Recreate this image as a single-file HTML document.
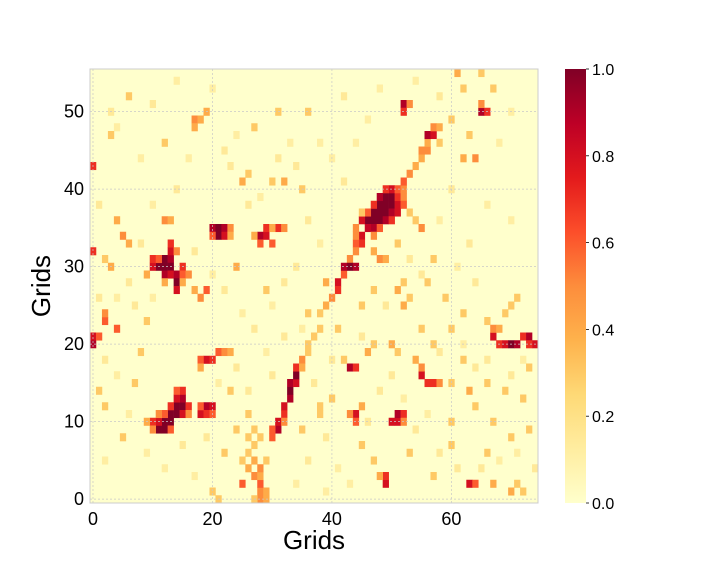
<!DOCTYPE html>
<html><head><meta charset="utf-8">
<style>
body{margin:0;background:#fff;font-family:"Liberation Sans",sans-serif;}
svg text{font-family:"Liberation Sans",sans-serif;fill:#000;}
</style></head>
<body>
<svg id="chart" width="720" height="576"></svg>
<script>
// Heatmap data: [x, y, value]
const xTicks=[0,20,40,60];
const yTicks=[0,10,20,30,40,50];
const cbTicks=["0.0","0.2","0.4","0.6","0.8","1.0"];
const cells=[
[46,36,1],[47,36,1],[47,37,1],[48,37,1],[48,38,1],[49,38,1],[49,39,1],[50,39,1],[50,38,1],[48,36,1],[49,37,1],[47,35,.9],[46,35,.85],[45,34,.8],[45,33,.7],[44,33,.6],[49,36,.9],[50,37,.9],[51,37,.8],[51,38,.8],[51,39,.7],[50,40,.8],[51,40,.6],[49,40,.7],[48,39,.9],[47,38,.7],[46,37,.6],[45,36,.8],[44,35,.5],[52,40,.5],[52,41,.6],[53,42,.5],[54,43,.4],[55,44,.4],[56,45,.5],[56,46,.4],[56,47,.9],[57,47,.8],[57,48,.5],[58,48,.4],[52,39,.5],[52,38,.6],[50,36,.7],[48,35,.6],[47,34,.5],[44,32,.5],[43,31,.5],[42,29,.6],[43,30,1],[44,30,.9],[42,30,.9],[41,28,.8],[41,27,.7],[40,26,.5],[39,25,.4],[38,24,.3],[38,22,.3],[37,21,.3],[45,37,.3],[44,34,.5],[53,37,.3],[54,36,.3],[55,35,.5],
[11,30,1],[12,30,1],[12,31,1],[13,31,.9],[13,30,1],[12,29,.9],[13,29,.8],[14,29,.9],[14,28,1],[14,27,.8],[15,30,.7],[15,29,.6],[16,29,.5],[10,30,.8],[10,31,.7],[11,31,.6],[13,32,.8],[13,33,.7],[14,32,.5],[12,28,.4],[15,28,.4],[9,29,.4],
[11,9,1],[12,9,1],[12,10,1],[13,10,1],[13,11,1],[14,11,1],[14,12,1],[15,12,1],[15,13,.9],[14,13,.8],[13,12,.7],[15,11,.8],[16,12,.7],[16,11,.5],[11,10,.8],[10,10,.7],[10,9,.5],[12,11,.6],[15,14,.7],[14,14,.6],[13,9,.6],[11,11,.5],[9,10,.4],
[18,11,.8],[19,12,.9],[19,11,.7],[20,12,.8],[20,11,.6],[18,12,.6],
[19,18,.8],[20,18,.7],[18,18,.6],[21,19,.6],[22,19,.5],[23,19,.4],[18,17,.4],
[20,35,.9],[21,35,1],[22,35,.9],[21,34,1],[22,34,.8],[20,34,.6],[23,35,.5],[23,34,.4],
[28,34,.9],[29,34,.8],[29,35,.7],[30,33,.6],[31,35,.7],[28,33,.6],[27,34,.4],[32,35,.5],[30,35,.4],
[31,9,.9],[31,10,.8],[32,11,.7],[32,12,.8],[33,13,.9],[33,14,1],[33,15,.9],[34,15,.8],[34,16,1],[34,17,.7],[35,18,.5],[30,8,.6],[30,9,.6],[32,10,.5],[35,17,.4],[36,19,.3],[36,20,.3],
[28,0,.5],[28,1,.5],[29,1,.4],[28,2,.6],[27,3,.5],[28,3,.4],[28,4,.5],[27,5,.4],[29,5,.3],[26,6,.3],[27,7,.3],[26,8,.3],[28,8,.3],[27,9,.3],[25,2,.6],[26,4,.4],[25,5,.3],[29,0,.4],[27,0,.3],
[67,21,.8],[68,20,.7],[69,20,.8],[70,20,1],[71,20,.9],[72,21,.7],[73,21,.9],[74,20,.8],[73,20,.7],[67,22,.5],[68,22,.4],[69,24,.3],[70,25,.3],[71,26,.3],[66,23,.3],
[52,51,.9],[52,50,.7],[53,51,.5],[65,50,.9],[66,50,.7],[65,51,.5],[64,44,.5],[62,44,.4],[0,20,.9],[0,21,.8],[1,21,.6],[2,23,.6],[2,24,.5],[4,22,.6],[0,32,.7],[0,43,.7],
[55,16,.8],[56,15,.7],[57,15,.7],[58,15,.5],[55,17,.5],[54,18,.4],
[50,10,.8],[51,10,.8],[51,11,.9],[52,11,.7],[52,10,.5],[44,11,.8],[44,10,.6],[43,11,.5],[45,12,.4],
[49,2,.8],[49,3,.7],[48,3,.4],[43,17,.9],[44,17,.7],[42,18,.3],
[63,2,.8],[64,2,.6],[67,2,.4],[70,1,.4],[72,1,.3],[71,2,.3],
[19,27,.6],[18,26,.5],[17,27,.4],[29,27,.3],[24,30,.4],[12,36,.5],[13,36,.4],[5,34,.5],[4,36,.4],[6,33,.4],[3,30,.4],[2,31,.3],
[48,31,.5],[49,31,.4],[47,32,.4],[51,33,.3],[51,27,.4],[52,28,.3],[52,25,.4],[53,26,.3],[55,22,.3],[50,20,.4],[51,19,.3],[41,22,.3],[39,28,.4],[36,24,.3],
[17,49,.5],[18,49,.4],[17,48,.4],[19,50,.4],[35,40,.3],[30,41,.3],[32,41,.4],[25,41,.4],[26,42,.3],[27,48,.3],[31,50,.3],[36,50,.3],[12,46,.3],[6,52,.3],[3,47,.3],
[55,45,.5],[58,46,.3],[60,49,.3],[63,47,.3],[62,53,.3],[61,55,.4],[65,55,.3],[67,53,.3],[57,20,.3],[60,15,.3],[63,14,.4],[66,15,.3],[62,18,.3],[64,12,.3],[67,10,.3],[60,10,.3],
[38,11,.3],[38,12,.3],[40,13,.3],[35,9,.3],[26,11,.3],[24,9,.3],[23,14,.3],[22,6,.3],[20,1,.3],[21,0,.3],[7,15,.3],[5,8,.3],[2,12,.3],[1,14,.3],[8,19,.3],[9,23,.3],
[47,5,.3],[45,7,.3],[53,6,.3],[57,3,.3],[60,7,.3],[66,6,.3],[70,8,.3],[73,9,.3],[72,13,.3],[69,14,.3],[73,17,.3],[46,19,.4],[47,20,.3],[45,25,.3],[47,27,.3],[56,28,.3],[57,31,.3],[59,26,.3],[60,22,.3],[62,24,.3]
];
// faint background cells: [x, y, value]
const faintCells=[
[3,50,.15],[4,48,.12],[8,44,.12],[10,38,.12],[14,40,.15],[16,44,.12],[22,45,.15],[24,47,.12],[23,43,.15],[26,38,.15],[28,39,.12],[31,44,.15],[33,46,.12],[34,43,.15],[38,46,.12],[40,44,.12],[42,41,.15],[44,46,.12],[46,49,.12],[36,36,.15],[38,33,.12],[34,30,.15],[32,28,.15],[30,25,.12],[27,22,.15],[25,24,.12],[22,27,.15],[20,29,.12],[17,32,.15],[8,33,.15],[6,28,.15],[4,26,.12],[7,25,.15],[10,26,.12],[2,18,.15],[4,16,.12],[6,11,.12],[9,6,.12],[12,4,.12],[15,7,.15],[17,3,.12],[19,8,.15],[21,15,.12],[24,17,.15],[26,14,.15],[30,16,.15],[29,19,.12],[32,21,.15],[35,22,.12],[37,15,.15],[39,8,.15],[41,4,.12],[43,2,.12],[46,10,.15],[48,14,.15],[50,16,.15],[52,13,.12],[54,9,.15],[56,11,.12],[58,6,.15],[61,4,.15],[65,4,.15],[68,5,.12],[71,6,.12],[74,4,.15],[70,16,.15],[72,18,.12],[66,18,.15],[64,28,.15],[61,30,.12],[63,33,.15],[58,36,.12],[60,40,.15],[66,38,.12],[70,36,.12],[68,46,.12],[70,50,.12],[58,52,.15],[54,54,.12],[48,53,.12],[42,52,.15],[20,53,.12],[14,54,.12],[10,51,.15],[1,38,.15],[1,26,.15],[2,5,.12],[34,2,.12],[36,5,.15],[39,1,.12],[55,29,.15],[53,31,.15],[49,25,.15],[45,21,.15],[40,18,.15],[58,19,.15],[62,20,.12],[64,17,.15]
];
const W=75,H=56;
const stops=["#ffffcc","#ffeda0","#fed976","#feb24c","#fd8d3c","#fc4e2a","#e31a1c","#bd0026","#800026"];
function hex(h){return [1,3,5].map(i=>parseInt(h.substr(i,2),16));}
function color(v){v=Math.max(0,Math.min(1,v));const t=v*8,i=Math.min(7,Math.floor(t)),f=t-i;const a=hex(stops[i]),b=hex(stops[i+1]);return `rgb(${a.map((c,k)=>Math.round(c+(b[k]-c)*f)).join(",")})`;}
const L=90,R=538,T=69,B=503;
const sx=x=>L+(x+0.5)*(R-L)/W;
const sy=y=>B-(y+0.5)*(B-T)/H;
const cw=(R-L)/W,ch=(B-T)/H;
const NS="http://www.w3.org/2000/svg";
const svg=document.getElementById("chart");
function mk(tag,attrs,parent){const e=document.createElementNS(NS,tag);for(const k in attrs)e.setAttribute(k,attrs[k]);(parent||svg).appendChild(e);return e;}
const bg=mk("rect",{x:L,y:T,width:R-L,height:B-T,fill:"#ffffcc"});


const g=mk("g",{});


faintCells.concat(cells).forEach(c=>{
  const r=mk("rect",{x:(sx(c[0])-cw/2).toFixed(2),y:(sy(c[1])-ch/2).toFixed(2),width:(cw+0.3).toFixed(2),height:(ch+0.3).toFixed(2),fill:color(c[2])},g);
  
  
});
xTicks.forEach(t=>{
  const l=mk("line",{x1:sx(t),x2:sx(t),y1:T,y2:B,stroke:"#c8c8c8","stroke-width":0.7,"stroke-dasharray":"2,2"});
  
  
  const tx=mk("text",{x:sx(t),y:B+22,"font-size":18,"text-anchor":"middle"});tx.textContent=t;
  
  
});
yTicks.forEach(t=>{
  const l=mk("line",{x1:L,x2:R,y1:sy(t),y2:sy(t),stroke:"#c8c8c8","stroke-width":0.7,"stroke-dasharray":"2,2"});
  
  
  const tx=mk("text",{x:L-6,y:sy(t)+6,"font-size":18,"text-anchor":"end"});tx.textContent=t;
  
  
});
const fr=mk("rect",{x:L,y:T,width:R-L,height:B-T,fill:"none",stroke:"#cccccc","stroke-width":1});


const xt=mk("text",{x:(L+R)/2,y:549,"font-size":26,"text-anchor":"middle"});xt.textContent="Grids";


const yt=mk("text",{x:0,y:0,"font-size":26,"text-anchor":"middle",transform:`translate(50,${(T+B)/2}) rotate(-90)`});yt.textContent="Grids";


const defs=mk("defs",{});
const grad=mk("linearGradient",{id:"cb",x1:0,y1:1,x2:0,y2:0},defs);
stops.forEach((s,i)=>mk("stop",{offset:i/8,"stop-color":s},grad));
const cb=mk("rect",{x:565,y:T,width:21,height:B-T,fill:"url(#cb)"});


cbTicks.forEach((t,i)=>{
  const y=B-(B-T)*i/(cbTicks.length-1);
  mk("line",{x1:586,x2:589,y1:y,y2:y,stroke:"#000","stroke-width":0.8});
  const tx=mk("text",{x:592,y:y+6,"font-size":16});tx.textContent=t;
  
  
});
</script>
</body></html>
